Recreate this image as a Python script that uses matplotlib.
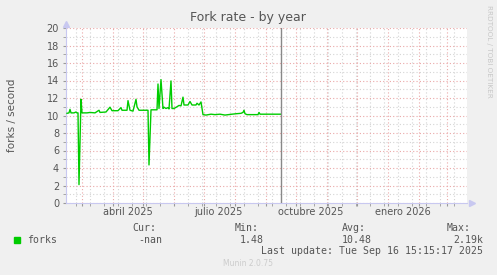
import pandas as pd
import matplotlib
matplotlib.use("Agg")
import matplotlib.pyplot as plt
import numpy as np

# (forks per second, yearly munin graph)
dates = [
    "2025-02-14", "2025-02-16", "2025-02-17", "2025-02-18", "2025-02-21",
    "2025-02-23", "2025-02-24", "2025-02-25", "2025-02-26", "2025-02-28",
    "2025-03-01", "2025-03-06", "2025-03-09", "2025-03-14", "2025-03-18",
    "2025-03-19", "2025-03-25", "2025-03-29", "2025-03-31", "2025-04-06",
    "2025-04-09", "2025-04-10", "2025-04-15", "2025-04-16", "2025-04-18",
    "2025-04-21", "2025-04-24", "2025-04-25", "2025-04-27", "2025-05-06",
    "2025-05-07", "2025-05-09", "2025-05-15", "2025-05-16", "2025-05-17",
    "2025-05-19", "2025-05-21", "2025-05-22", "2025-05-24", "2025-05-26",
    "2025-05-27", "2025-05-29", "2025-05-30", "2025-06-01", "2025-06-04",
    "2025-06-06", "2025-06-08", "2025-06-10", "2025-06-11", "2025-06-15",
    "2025-06-17", "2025-06-19", "2025-06-23", "2025-06-24", "2025-06-26",
    "2025-06-28", "2025-06-30", "2025-07-03", "2025-07-08", "2025-07-12",
    "2025-07-17", "2025-07-22", "2025-07-29", "2025-08-02", "2025-08-07",
    "2025-08-09", "2025-08-10", "2025-08-11", "2025-08-13", "2025-08-24",
    "2025-08-25", "2025-08-26", "2025-09-05", "2025-09-16",
]
forks = [
    10.25, 10.3, 10.7, 10.3, 10.3,
    10.4, 10.3, 10.3, 2.1, 11.85,
    10.3, 10.3, 10.35, 10.3, 10.6,
    10.35, 10.4, 10.95, 10.55, 10.55,
    10.9, 10.6, 10.6, 11.7, 10.6,
    10.5, 11.85, 11.0, 10.6, 10.6,
    4.35, 10.65, 10.65, 13.6, 10.8,
    14.1, 10.8, 10.95, 10.8, 10.9,
    10.75, 13.95, 10.8, 10.8, 11.0,
    11.15, 11.1, 12.1, 11.2, 11.2,
    11.6, 11.2, 11.2, 11.4, 11.2,
    11.55, 10.1, 10.05, 10.15, 10.1,
    10.15, 10.05, 10.15, 10.2, 10.25,
    10.35, 10.6, 10.2, 10.1, 10.1,
    10.35, 10.15, 10.15, 10.15,
]

now = "2025-09-16"
x_start, x_end = "2025-02-13", "2026-03-21"
month_labels = ["abril 2025", "julio 2025", "octubre 2025", "enero 2026"]
month_label_dates = ["2025-04-16", "2025-07-15", "2025-10-16", "2026-01-16"]
legend_name = "forks"
legend_heads = ["Cur:", "Min:", "Avg:", "Max:"]
legend_vals = ["-nan", "1.48", "10.48", "2.19k"]

W, H = 497, 275
fig = plt.figure(figsize=(W / 100, H / 100), dpi=100, facecolor="#F0F0F0")
ax = fig.add_axes([66 / W, 1 - 203 / H, (467 - 66) / W, (203 - 28) / H])
ax.set_facecolor("white")

d = pd.to_datetime(dates)
ax.plot(d, forks, color="#00CC00", lw=1.0, zorder=5)

# grid: red majors, grey minors (rrdtool style)
t0, t1 = pd.Timestamp(x_start), pd.Timestamp(x_end)
months = pd.date_range("2025-03-01", "2026-03-01", freq="MS")
biweek = pd.date_range("2025-02-23", "2026-03-20", freq="14D")
ax.set_xticks(months)
ax.set_xticks(biweek, minor=True)
ax.set_xticklabels([])
ax.set_yticks(np.arange(0, 21, 2))
ax.set_yticks(np.arange(0, 21, 1), minor=True)
ax.set_xlim(t0, t1)
ax.set_ylim(0, 20)
ax.grid(which="minor", color="#D4D4D4", ls=(0, (1, 2)), lw=0.8)
ax.grid(which="major", color="#EAA8A8", ls=(0, (1, 2)), lw=0.8)
ax.set_axisbelow(True)

ax.tick_params(which="both", length=2, color="#999999", labelsize=7,
               labelcolor="#555555", pad=3)
for s in ["top", "right"]:
    ax.spines[s].set_visible(False)
for s in ["left", "bottom"]:
    ax.spines[s].set_color("#C8C8F0")
    ax.spines[s].set_linewidth(0.8)

# axis arrows
ax.plot([0], [1.025], marker="^", ms=4, color="#C8C8F0", transform=ax.transAxes, clip_on=False)
ax.plot([1.012], [0], marker=">", ms=4, color="#C8C8F0", transform=ax.transAxes, clip_on=False)

# current time marker
ax.axvline(pd.Timestamp(now), color="#888888", lw=1.0, zorder=6)

for lab, dt in zip(month_labels, month_label_dates):
    ax.text(pd.Timestamp(dt), -0.05, lab, transform=ax.get_xaxis_transform(),
            ha="center", va="center", fontsize=7, color="#555555")

fig.text(248 / W, 1 - 18 / H, "Fork rate - by year", ha="center", va="center",
         fontsize=9, color="#555555")
fig.text(12 / W, 1 - 115 / H, "forks / second", rotation=90, ha="center",
         va="center", fontsize=7.5, color="#555555")
fig.text(489 / W, 1 - 5 / H, "RRDTOOL / TOBI OETIKER", rotation=-90, ha="center",
         va="top", fontsize=5.2, color="#C8C8C8")

mono = "DejaVu Sans Mono"
head_x = [132, 235, 342, 447]
val_x = [138, 240, 342, 453]
for hx, t in zip(head_x, legend_heads):
    fig.text(hx / W, 1 - 228 / H, t, family=mono, fontsize=7.1, color="#555555",
             ha="left", va="center")
for vx, t in zip(val_x, legend_vals):
    fig.text(vx / W, 1 - 240 / H, t, family=mono, fontsize=7.1, color="#555555",
             ha="left", va="center")
fig.patches.append(plt.Rectangle((14 / W, 1 - 243 / H), 6 / W, 6 / H,
                                 transform=fig.transFigure, color="#00CC00"))
fig.text(27 / W, 1 - 240 / H, legend_name, family=mono, fontsize=7.1,
         color="#555555", ha="left", va="center")
fig.text(483 / W, 1 - 251 / H, "Last update: Tue Sep 16 15:15:17 2025", family=mono,
         fontsize=7.1, color="#555555", ha="right", va="center")
fig.text(248 / W, 1 - 264 / H, "Munin 2.0.75", ha="center", va="center",
         fontsize=5.5, color="#CCCCCC")

fig.savefig("out.png", dpi=100, facecolor=fig.get_facecolor())
